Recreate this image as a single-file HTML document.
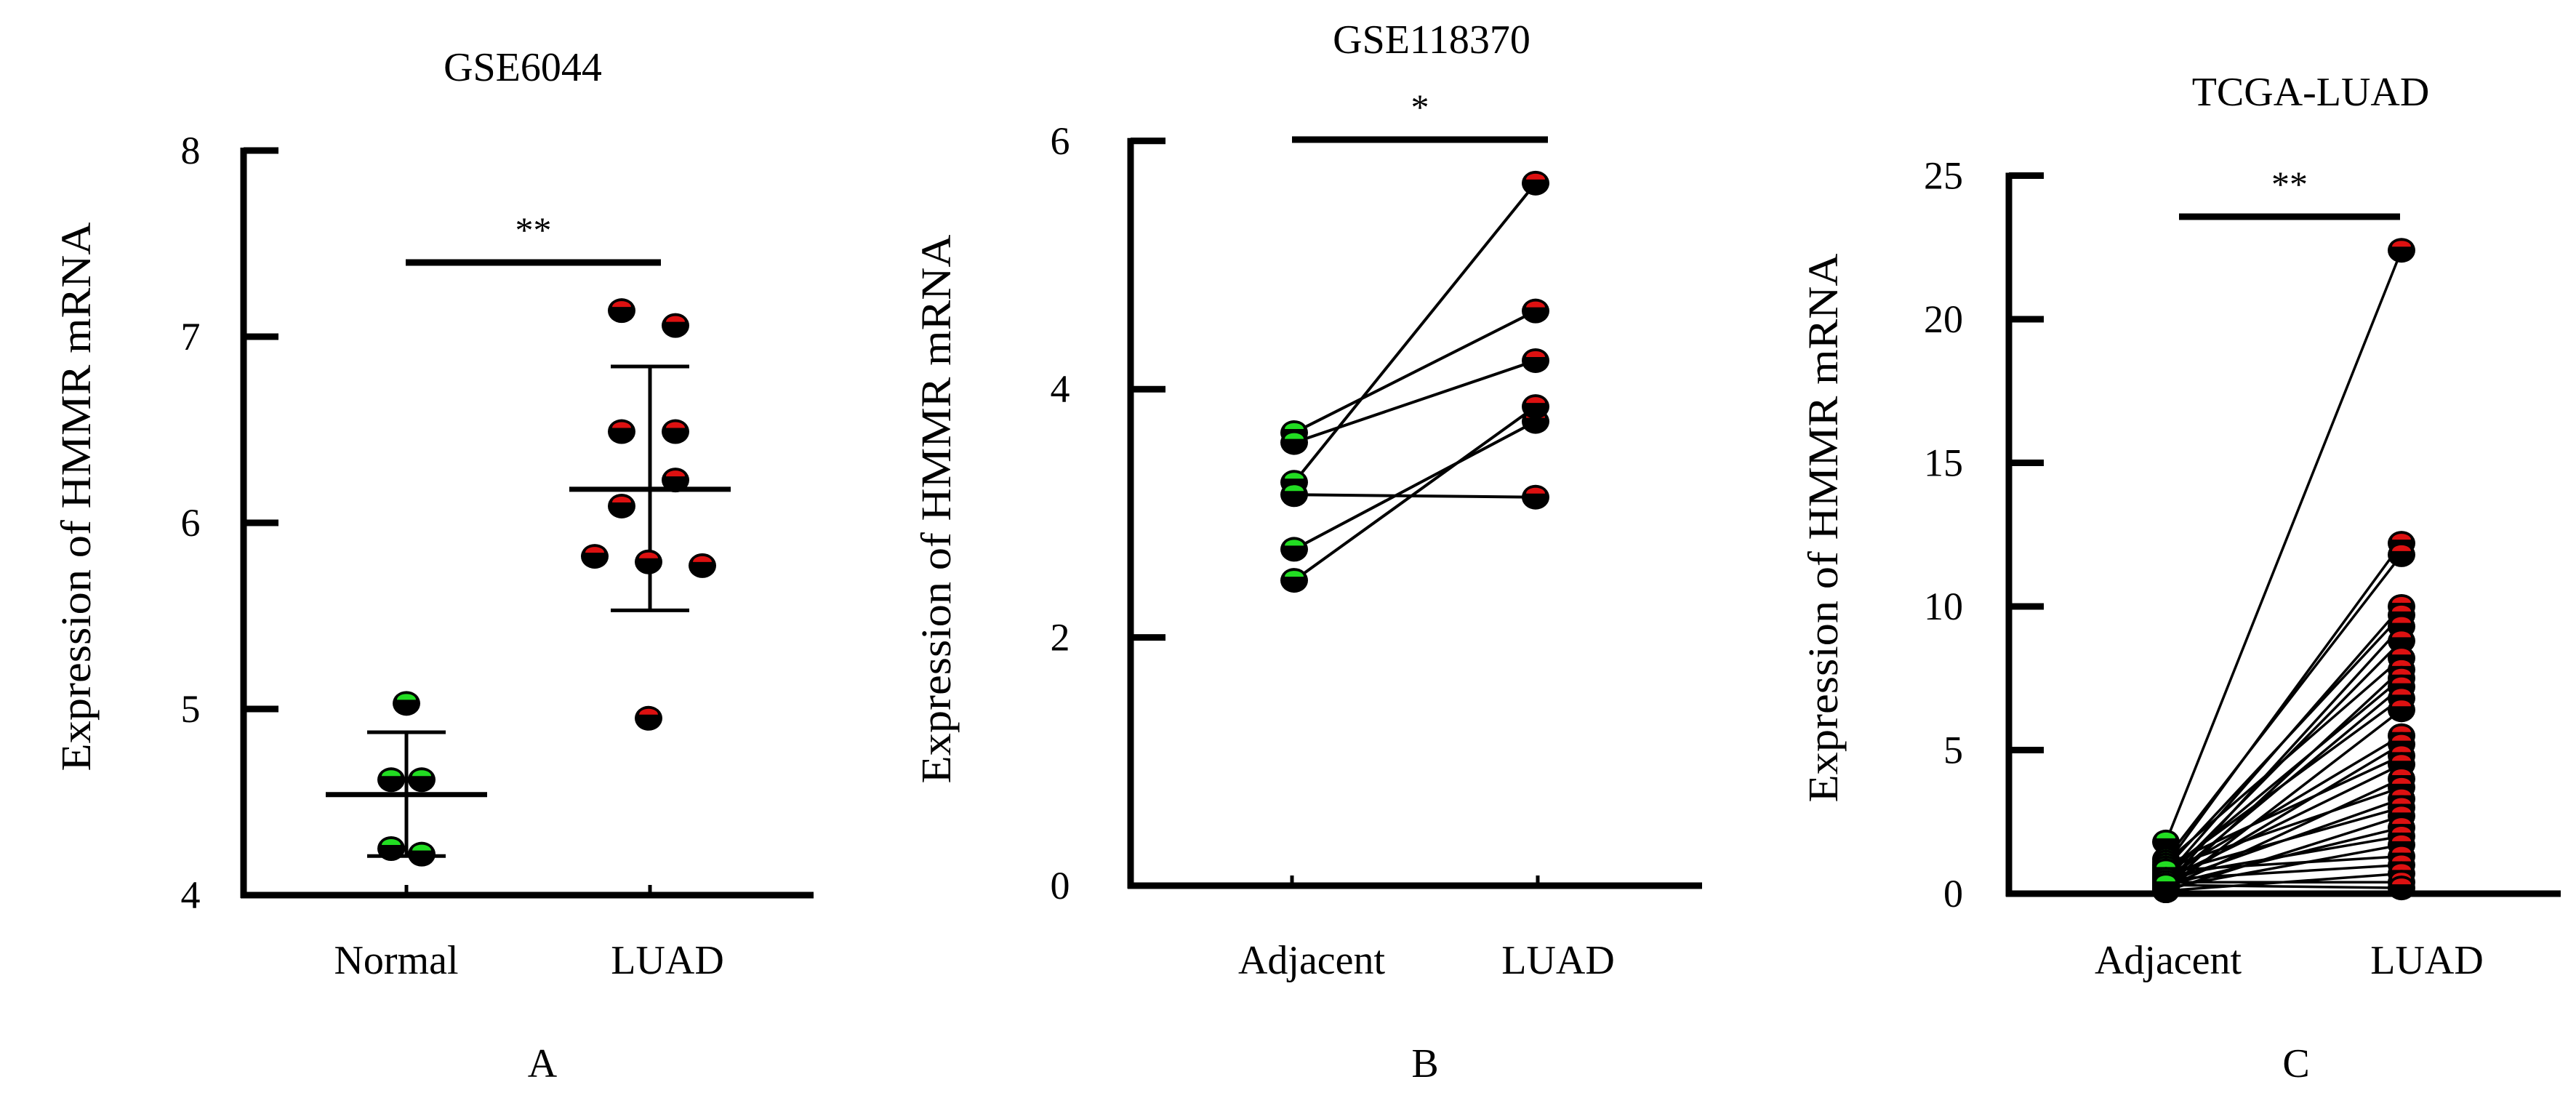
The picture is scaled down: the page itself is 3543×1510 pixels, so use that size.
<!DOCTYPE html>
<html><head><meta charset="utf-8"><style>
html,body{margin:0;padding:0;background:#fff;}
svg{display:block;font-family:"Liberation Serif",serif;}
</style></head><body>
<svg id="fig" width="3543" height="1510" viewBox="0 0 3543 1510" xmlns="http://www.w3.org/2000/svg">
<rect width="3543" height="1510" fill="#fff"/>
</svg>
<script>
// Panel A data
const aCategories = ["Normal", "LUAD"];
const aTicks = [4, 5, 6, 7, 8];
const aNormal = [5.03, 4.62, 4.62, 4.25, 4.22];
const aLuad = [7.14, 7.06, 6.49, 6.49, 6.23, 6.09, 5.82, 5.79, 5.77, 4.95];
const aNormalJitter = [0, -1, 1, -1, 1];
const aLuadJitter = [-1, 1, -1, 1, 1, -1, -2, 0, 2, 0];
const aMean = [4.54, 6.18];
const aSdLow = [4.21, 5.53];
const aSdHigh = [4.875, 6.84];
// Panel B data
const bCategories = ["Adjacent", "LUAD"];
const bTicks = [0, 2, 4, 6];
const bAdjacent = [3.25, 3.65, 3.57, 3.15, 2.71, 2.46];
const bLuad = [5.66, 4.63, 4.23, 3.13, 3.74, 3.86];
// Panel C data
const cCategories = ["Adjacent", "LUAD"];
const cTicks = [0, 5, 10, 15, 20, 25];
const cAdjacent = [1.8, 1.0, 1.2, 0.6, 0.9, 0.3, 0.5, 1.1, 0.2, 0.7, 0.4, 0.8, 0.1, 0.6, 0.3, 1.0, 0.5, 0.2, 0.9, 0.4, 0.7, 0.1, 0.3, 0.6, 0.2, 0.8, 0.5, 0.1, 0.4, 0.3];
const cLuad = [22.4, 12.2, 11.8, 10.0, 9.7, 9.3, 8.8, 8.2, 7.8, 7.5, 7.2, 6.8, 6.4, 5.5, 5.2, 4.8, 4.5, 4.0, 3.7, 3.3, 3.0, 2.7, 2.3, 2.0, 1.7, 1.3, 1.0, 0.7, 0.4, 0.2];

const NS = "http://www.w3.org/2000/svg";
const svg = document.getElementById("fig");
function mk(tag, attrs, parent) {
  const e = document.createElementNS(NS, tag);
  for (const k in attrs) e.setAttribute(k, attrs[k]);
  (parent || svg).appendChild(e);
  return e;
}
function line(x1, y1, x2, y2, w, parent) {
  return mk("line", {x1: x1, y1: y1, x2: x2, y2: y2, stroke: "#000", "stroke-width": w}, parent);
}
function txt(s, x, y, size, parent, anchor) {
  const t = mk("text", {x: x, y: y, "font-size": size, "text-anchor": anchor || "middle", fill: "#000"}, parent);
  t.textContent = s;
  return t;
}
function dot(cx, cy, color, parent) {
  const g = mk("g", {}, parent);
  
  
  mk("ellipse", {cx: cx, cy: cy, rx: 19, ry: 17, fill: "#000"}, g);
  mk("path", {d: `M${cx-13},${cy-5} A13,8 0 0 1 ${cx+13},${cy-5} Z`, fill: color}, g);
  return g;
}

function panel(cfg) {
  const g = mk("g", {});
  
  
  const y = v => cfg.y0 - (v - cfg.vmin) * cfg.unit;
  const t = txt(cfg.title, cfg.titleX, cfg.titleY, 56, g);
  
  
  const yl = mk("text", {x: 0, y: 0, "font-size": 58, "text-anchor": "middle", transform: `translate(${cfg.ylX},${cfg.ylY}) rotate(-90)`, textLength: 755, lengthAdjust: "spacingAndGlyphs"}, g);
  yl.textContent = "Expression of HMMR mRNA";
  
  
  const ya = line(cfg.ax, y(cfg.ticks[cfg.ticks.length - 1]) - 4, cfg.ax, cfg.y0 + 4, 9, g);
  
  
  const xa = line(cfg.ax - 4, cfg.y0, cfg.axEnd, cfg.y0, 9, g);
  
  
  cfg.ticks.forEach(v => {
    const tk = line(cfg.ax, y(v), cfg.ax + 48, y(v), 9, g);
    
    
    const lb = txt(String(v), cfg.tlX, y(v) + 18, 54, g, cfg.tlAnchor || "middle");
    
    
  });
  cfg.catX.forEach((cx, i) => {
    const tk = line(cx, cfg.y0, cx, cfg.y0 - 14, 5, g);
    
    
    const lb = txt(cfg.cats[i], cfg.catLabelX[i], 1339, 56, g);
    
    
  });
  const sb = line(cfg.sigX1, cfg.sigY, cfg.sigX2, cfg.sigY, 9, g);
  
  
  const st = txt(cfg.sig, (cfg.sigX1 + cfg.sigX2) / 2, cfg.sigY - 28, 50, g);
  
  
  const pl = txt(cfg.letter, cfg.letterX, 1481, 56, g);
  
  
  return {g: g, y: y};
}

const A = panel({name: "panel-a-gse6044", title: "GSE6044", titleX: 719, titleY: 111, ylX: 124, ylY: 683,
  ax: 335, axEnd: 1119, y0: 1231, vmin: 4, unit: 256, ticks: aTicks, tlX: 262,
  catX: [559, 894], cats: aCategories, catLabelX: [545, 918],
  sigX1: 558, sigX2: 909, sigY: 361, sig: "**", letter: "A", letterX: 746});
[0, 1].forEach(i => {
  const cx = [559, 894][i];
  const m = mk("g", {}, A.g);
  
  
  line(cx, A.y(aSdHigh[i]), cx, A.y(aSdLow[i]), 5, m);
  line(cx - 54, A.y(aSdHigh[i]), cx + 54, A.y(aSdHigh[i]), 5, m);
  line(cx - 54, A.y(aSdLow[i]), cx + 54, A.y(aSdLow[i]), 5, m);
  line(cx - 111, A.y(aMean[i]), cx + 111, A.y(aMean[i]), 7, m);
});
aNormal.forEach((v, i) => dot(559 + aNormalJitter[i] * 21, A.y(v), "#22dd22", A.g));
aLuad.forEach((v, i) => dot(892 + aLuadJitter[i] * 37, A.y(v), "#dd1111", A.g));

const B = panel({name: "panel-b-gse118370", title: "GSE118370", titleX: 1969, titleY: 73, ylX: 1307, ylY: 700,
  ax: 1555, axEnd: 2341, y0: 1218, vmin: 0, unit: 170.7, ticks: bTicks, tlX: 1458,
  catX: [1777, 2115], cats: bCategories, catLabelX: [1804, 2143],
  sigX1: 1777, sigX2: 2129, sigY: 192, sig: "*", letter: "B", letterX: 1960});
bAdjacent.forEach((v, i) => {
  const l = line(1780, B.y(v), 2112, B.y(bLuad[i]), 4, B.g);
  
  
});
bAdjacent.forEach(v => dot(1780, B.y(v), "#22dd22", B.g));
bLuad.forEach(v => dot(2112, B.y(v), "#dd1111", B.g));

const C = panel({name: "panel-c-tcga-luad", title: "TCGA-LUAD", titleX: 3178, titleY: 145, ylX: 2527, ylY: 726,
  ax: 2763, axEnd: 3522, y0: 1229, vmin: 0, unit: 39.5, ticks: cTicks, tlX: 2700, tlAnchor: "end",
  catX: [2979, 3305], cats: cCategories, catLabelX: [2982, 3338],
  sigX1: 2997, sigX2: 3301, sigY: 298, sig: "**", letter: "C", letterX: 3158});
cAdjacent.forEach((v, i) => {
  const l = line(2979, C.y(v), 3303, C.y(cLuad[i]), 3.5, C.g);
  
  
});
cAdjacent.forEach(v => dot(2979, C.y(v), "#22dd22", C.g));
cLuad.forEach(v => dot(3303, C.y(v), "#dd1111", C.g));
</script>
</body></html>
